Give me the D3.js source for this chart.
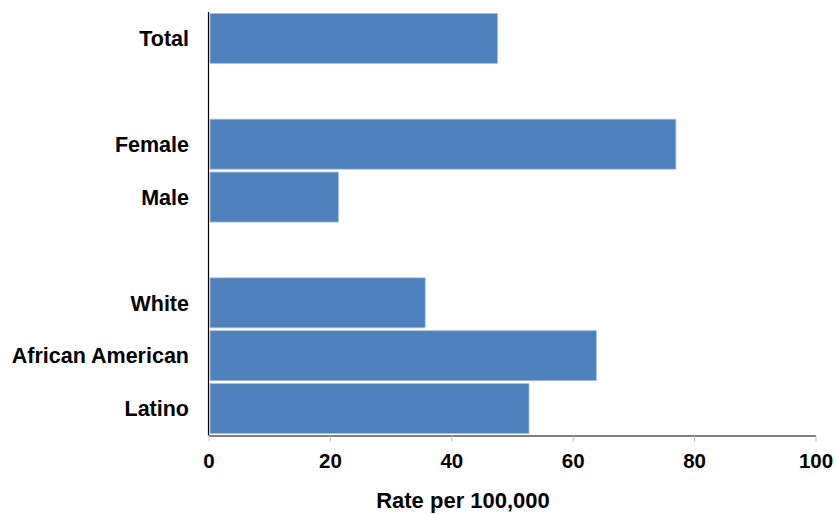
<!DOCTYPE html>
<html><head><meta charset="utf-8">
<script src="https://cdn.jsdelivr.net/npm/d3@7/dist/d3.min.js"></script>
<style>body{margin:0;background:#fff}svg{display:block}</style>
</head><body><svg id="c" width="836" height="514"></svg>
<script>
const categories = ["Total", "", "Female", "Male", " ", "White", "African American", "Latino"];
const values = [47.6, null, 77.0, 21.4, null, 35.7, 63.9, 52.8];
const xTicks = [0, 20, 40, 60, 80, 100];
const xTitle = "Rate per 100,000";

const svg = d3.select("#c");
const x = d3.scaleLinear().domain([0, 100]).range([208.5, 815.5]);
const y = d3.scaleBand().domain(categories).range([12, 435]).paddingInner(0.055).paddingOuter(0.027);
const font = "'Liberation Sans', Arial, sans-serif";

const data = categories.map((c, i) => ({c, v: values[i]})).filter(d => d.v != null);

svg.append("g").selectAll("rect").data(data).enter().append("rect")
  .attr("x", x(0) + 1.5)
  .attr("y", d => y(d.c))
  .attr("width", d => x(d.v) - x(0) - 1.5)
  .attr("height", y.bandwidth())
  .attr("fill", "#4F81BD")
  .attr("stroke", "#A7BFDE").attr("stroke-width", 0.8);

// category labels
svg.append("g").selectAll("text").data(data).enter().append("text")
  .attr("x", 189).attr("y", d => y(d.c) + y.bandwidth() / 2)
  .attr("dy", "0.36em").attr("text-anchor", "end")
  .attr("font-family", font).attr("font-weight", "bold").attr("font-size", 21.5)
  .attr("fill", "#000").text(d => d.c);

// left axis line
svg.append("line").attr("x1", 208.5).attr("x2", 208.5).attr("y1", 12).attr("y2", 435.5)
  .attr("stroke", "#000").attr("stroke-width", 1.2);

// bottom axis
const xa = svg.append("g").attr("transform", "translate(0,435.5)")
  .call(d3.axisBottom(x).tickValues(xTicks).tickSize(6).tickPadding(11.5).tickSizeOuter(0));
xa.select(".domain").attr("stroke", "#000").attr("stroke-width", 1.2);
xa.selectAll(".tick line").attr("stroke", "#BBB");
xa.selectAll(".tick text").attr("font-family", font).attr("font-weight", "bold")
  .attr("font-size", 20.5).attr("fill", "#000");

svg.append("text").attr("x", 463).attr("y", 508).attr("text-anchor", "middle")
  .attr("font-family", font).attr("font-weight", "bold").attr("font-size", 22)
  .attr("fill", "#000").text(xTitle);
</script></body></html>
